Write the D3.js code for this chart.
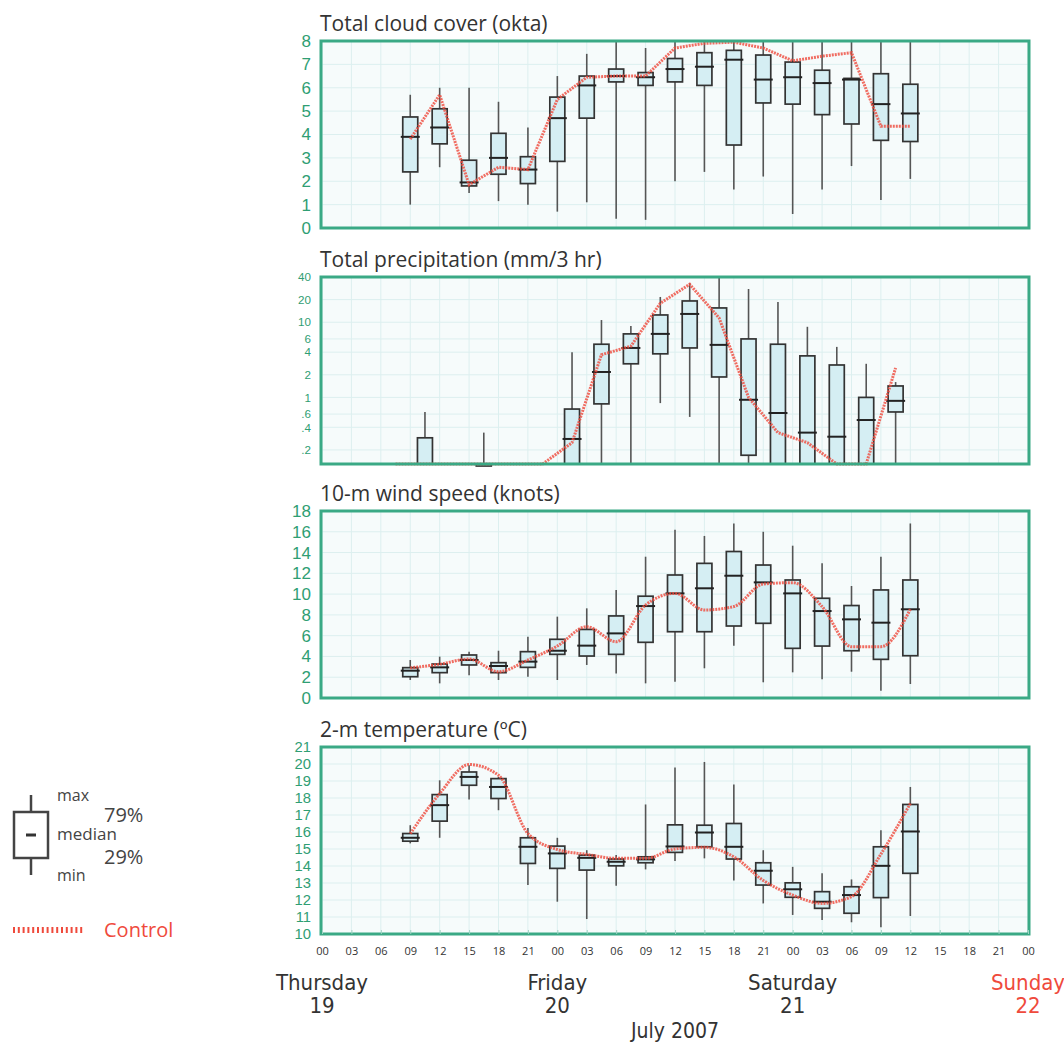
<!DOCTYPE html>
<html>
<head>
<meta charset="utf-8">
<script src="https://cdn.jsdelivr.net/npm/d3@7"></script>
<style>
  body { margin: 0; background: #fff; }
  text { font-family: "Open Sans", "Noto Sans", sans-serif; }
</style>
</head>
<body>
<div id="chart"></div>
<script>
// hours since Thursday 00 UTC
var hourTicks = ["00","03","06","09","12","15","18","21","00","03","06","09","12","15","18","21","00","03","06","09","12","15","18","21","00"]
var dayNames = ["Thursday","Friday","Saturday","Sunday"]
var dayNums = ["19","20","21","22"]

var boxHours = [9,12,15,18,21,24,27,30,33,36,39,42,45,48,51,54,57,60]
var precipHours = [10.5,13.5,16.5,19.5,22.5,25.5,28.5,31.5,34.5,37.5,40.5,43.5,46.5,49.5,52.5,55.5,58.5]
var precipCtrlHours = [7.5,10.5,13.5,16.5,19.5,22.5,25.5,28.5,31.5,34.5,37.5,40.5,43.5,46.5,49.5,52.5,55.5,58.5]

// [min, q1, median, q3, max]
var cloudBoxes = [
  [1.0,2.4,3.9,4.75,5.7],[2.6,3.6,4.3,5.1,6.0],[1.5,1.8,1.95,2.9,6.0],[1.15,2.3,3.0,4.05,5.4],
  [1.0,1.9,2.5,3.05,4.3],[0.7,2.85,4.7,5.6,6.5],[1.1,4.7,6.1,6.5,7.45],[0.4,6.25,6.5,6.8,8],
  [0.35,6.1,6.45,6.65,7.7],[2.0,6.25,6.8,7.25,8],[2.4,6.1,6.9,7.5,8],[1.65,3.55,7.2,7.6,8],
  [2.2,5.35,6.35,7.4,8],[0.6,5.3,6.45,7.1,8],[1.65,4.85,6.2,6.75,8],[2.65,4.45,6.35,6.4,8],
  [1.2,3.75,5.3,6.6,8],[2.1,3.7,4.9,6.15,8]
]
var cloudControl = [3.8,5.7,1.85,2.6,2.5,5.5,6.45,6.5,6.5,7.7,7.9,7.95,7.7,7.15,7.35,7.5,4.35,4.35]

var precipBoxes = [
  [0,0,0,0.29,0.64],[0,0,0,0,0],[0,0,0,0,0.34],[0,0,0,0,0],[0,0,0,0,0],
  [0,0,0.28,0.7,4.0],[0,0.82,2.18,5.1,10.7],[0,2.8,4.55,7.0,8.9],[0.84,3.8,7.0,12.5,21.7],
  [0.55,4.55,12.9,19.2,33],[0,1.87,5.0,15.5,40],[0,0.17,0.93,6.0,27.7],[0,0,0.62,5.1,18.6],
  [0,0,0.34,3.57,8.7],[0,0,0.3,2.7,4.7],[0,0,0.5,1.0,2.8],[0,0.64,0.9,1.42,1.6]
]
var precipControl = [0,0,0,0,0,0,0.25,3.7,4.8,17.9,32,11.4,1.0,0.34,0.25,0,0,2.47]

var windBoxes = [
  [1.73,2.05,2.63,2.92,3.66],[1.41,2.44,2.95,3.27,3.98],[2.2,3.18,3.66,4.14,4.46],[1.73,2.44,3.08,3.4,4.55],
  [2.05,2.95,3.5,4.46,5.9],[1.73,4.2,4.55,5.65,7.83],[3.18,4.04,5.04,6.6,8.63],[2.37,4.2,6.22,7.9,10.4],
  [1.41,5.36,8.85,9.8,13.6],[1.57,6.38,10.07,11.84,16.2],[2.86,6.38,10.56,12.96,15.6],[5.03,6.93,11.77,14.1,16.8],
  [1.51,7.19,11.13,12.8,16.0],[2.47,4.78,10.07,11.36,14.66],[1.8,5.0,8.37,9.6,12.96],[2.53,4.55,7.57,8.9,10.78],
  [0.7,3.72,7.25,10.4,13.6],[1.35,4.07,8.54,11.36,16.8]
]
var windControl = [2.9,3.25,3.75,2.53,3.66,5.0,6.86,5.42,8.95,10.07,8.47,8.8,10.97,11.1,8.8,4.94,4.94,8.54]

var tempBoxes = [
  [15.33,15.46,15.66,15.91,16.4],[15.66,16.64,17.58,18.2,19.04],[17.91,18.75,19.24,19.53,19.93],[17.28,17.97,18.65,19.14,19.24],
  [12.88,14.15,15.13,15.66,16.24],[11.9,13.86,14.74,15.17,15.66],[10.88,13.76,14.48,14.64,14.93],[12.84,14.01,14.25,14.41,14.64],
  [13.8,14.19,14.39,14.54,17.62],[14.29,14.8,15.15,16.42,19.8],[14.45,15.13,15.97,16.4,20.12],[13.15,14.41,15.13,16.5,18.79],
  [11.8,12.88,13.72,14.19,14.93],[11.12,12.16,12.63,13.01,13.95],[10.82,11.51,11.9,12.49,13.57],[10.69,11.22,12.29,12.78,13.21],
  [10.39,12.14,14.01,15.13,16.11],[11.06,13.57,16.03,17.62,18.65]
]
var tempControl = [15.9,18.26,19.97,19.34,15.91,14.97,14.68,14.45,14.45,15.0,15.1,14.54,13.15,12.29,11.8,12.2,14.7,17.68]

var cloudTicks = [0,1,2,3,4,5,6,7,8]
var precipTicks = [0.2,0.4,0.6,1,2,4,6,10,20,40]
var precipTickLabels = [".2",".4",".6","1","2","4","6","10","20","40"]
var windTicks = [0,2,4,6,8,10,12,14,16,18]
var tempTicks = [10,11,12,13,14,15,16,17,18,19,20,21]

var W = 1064, H = 1045
var svg = d3.select('#chart').append('svg')
  .attr('width', W).attr('height', H)

var x = d3.scaleLinear().domain([0, 72]).range([322, 1028])
var ph = 187
var green = '#2f9e73'
var red = '#ef4a3c'

var panels = [
  {title: 'Total cloud cover (okta)', top: 41, y: d3.scaleLinear().domain([0, 8]),
   ticks: cloudTicks, fmt: String, fs: 17, boxes: cloudBoxes, bx: boxHours,
   ctrl: cloudControl, cx: boxHours, curve: d3.curveLinear},
  {title: 'Total precipitation (mm/3 hr)', top: 277, y: d3.scaleLog().domain([0.13, 40]).clamp(true),
   ticks: precipTicks, fmt: function(d, i) { return precipTickLabels[i] }, fs: 11.6, boxes: precipBoxes, bx: precipHours,
   ctrl: precipControl, cx: precipCtrlHours, curve: d3.curveLinear},
  {title: '10-m wind speed (knots)', top: 511, y: d3.scaleLinear().domain([0, 18]),
   ticks: windTicks, fmt: String, fs: 17, boxes: windBoxes, bx: boxHours,
   ctrl: windControl, cx: boxHours, curve: d3.curveMonotoneX},
  {title: '2-m temperature (\u00BAC)', top: 747, y: d3.scaleLinear().domain([10, 21]),
   ticks: tempTicks, fmt: String, fs: 14.8, boxes: tempBoxes, bx: boxHours,
   ctrl: tempControl, cx: boxHours, curve: d3.curveMonotoneX}
]

panels.forEach(function(p, pi) {
  var y = p.y.range([p.top + ph, p.top])
  var g = svg.append('g')

  // background + grid
  g.append('rect')
    .attr('x', x(0)).attr('y', p.top)
    .attr('width', x(72) - x(0)).attr('height', ph)
    .attr('fill', '#f6fbfb')
  g.selectAll('.vg').data(d3.range(0, 73, 3)).enter().append('line')
    .attr('x1', function(d) { return x(d) }).attr('x2', function(d) { return x(d) })
    .attr('y1', p.top).attr('y2', p.top + ph)
    .attr('stroke', '#dcefef').attr('stroke-width', 1)
  g.selectAll('.hg').data(p.ticks).enter().append('line')
    .attr('x1', x(0)).attr('x2', x(72))
    .attr('y1', function(d) { return y(d) }).attr('y2', function(d) { return y(d) })
    .attr('stroke', '#dcefef').attr('stroke-width', 1)

  // boxes
  var bw = 15
  var data = p.boxes.map(function(b, i) { return {t: p.bx[i], v: b} })
    .filter(function(d) { return d.v[4] > 0 })
  var bg = g.selectAll('.box').data(data).enter().append('g')
  bg.append('line')
    .attr('x1', function(d) { return x(d.t) }).attr('x2', function(d) { return x(d.t) })
    .attr('y1', function(d) { return y(Math.max(d.v[0], 0.001)) })
    .attr('y2', function(d) { return y(d.v[4]) })
    .attr('stroke', '#555').attr('stroke-width', 1.6)
  bg.append('rect')
    .attr('x', function(d) { return x(d.t) - bw / 2 })
    .attr('y', function(d) { return y(d.v[3]) })
    .attr('width', bw)
    .attr('height', function(d) { return Math.max(2, y(Math.max(d.v[1], 0.001)) - y(d.v[3])) })
    .attr('fill', '#d5eef3').attr('stroke', '#333').attr('stroke-width', 1.7)
  bg.append('line')
    .attr('x1', function(d) { return x(d.t) - bw / 2 - 2 }).attr('x2', function(d) { return x(d.t) + bw / 2 + 2 })
    .attr('y1', function(d) { return y(Math.max(d.v[2], 0.001)) })
    .attr('y2', function(d) { return y(Math.max(d.v[2], 0.001)) })
    .attr('stroke', '#222').attr('stroke-width', 2)

  // control line
  var line = d3.line()
    .x(function(d, i) { return x(p.cx[i]) })
    .y(function(d) { return y(Math.max(d, 0.001)) })
    .curve(p.curve)
  g.append('path').datum(p.ctrl)
    .attr('d', line)
    .attr('fill', 'none')
    .attr('stroke', red).attr('stroke-opacity', 0.8)
    .attr('stroke-width', 3).attr('stroke-dasharray', '2,1')

  // frame
  g.append('rect')
    .attr('x', x(0) - 1).attr('y', p.top)
    .attr('width', x(72) - x(0) + 2).attr('height', ph)
    .attr('fill', 'none').attr('stroke', '#3aa985').attr('stroke-width', 3)

  // y axis
  var ya = g.append('g').attr('transform', 'translate(' + (x(0) - 11) + ',0)')
    .call(d3.axisLeft(y).tickValues(p.ticks).tickFormat(p.fmt).tickSize(0).tickPadding(0))
  ya.select('.domain').remove()
  ya.selectAll('text').attr('fill', green)
    .style('font-family', '"Liberation Sans", Arial, sans-serif')
    .style('font-size', p.fs + 'px')

  g.append('text')
    .attr('x', x(0) - 2).attr('y', p.top - 10)
    .attr('fill', '#333').style('font-size', '21px')
    .text(p.title)
})

// bottom time axis
var xa = svg.append('g').attr('transform', 'translate(0,' + (747 + ph) + ')')
  .call(d3.axisBottom(x).tickValues(d3.range(0, 73, 3))
    .tickFormat(function(d, i) { return hourTicks[i] })
    .tickSizeInner(-4).tickSizeOuter(0).tickPadding(13))
xa.select('.domain').remove()
xa.selectAll('line').attr('stroke', '#9fd3c3')
xa.selectAll('text').attr('fill', '#333').style('font-size', '11px')

var days = svg.selectAll('.day').data(dayNames).enter().append('g')
  .attr('transform', function(d, i) { return 'translate(' + x(i * 24) + ',0)' })
days.append('text')
  .attr('y', 990).attr('text-anchor', 'middle')
  .style('font-family', '"Liberation Sans Narrow", "DejaVu Sans Condensed", sans-serif')
  .style('font-size', '22px')
  .attr('fill', function(d, i) { return i === 3 ? red : '#333' })
  .text(function(d) { return d })
days.append('text')
  .attr('y', 1013).attr('text-anchor', 'middle')
  .style('font-family', '"Liberation Sans Narrow", "DejaVu Sans Condensed", sans-serif')
  .style('font-size', '22px')
  .attr('fill', function(d, i) { return i === 3 ? red : '#333' })
  .text(function(d, i) { return dayNums[i] })

svg.append('text')
  .attr('x', x(36)).attr('y', 1038).attr('text-anchor', 'middle')
  .style('font-family', '"Liberation Sans Narrow", "DejaVu Sans Condensed", sans-serif')
  .style('font-size', '21px').attr('fill', '#333')
  .text('July 2007')

// legend
var lg = svg.append('g')
lg.append('line').attr('x1', 31).attr('x2', 31).attr('y1', 795).attr('y2', 875)
  .attr('stroke', '#444').attr('stroke-width', 2.5)
lg.append('rect').attr('x', 14).attr('y', 812).attr('width', 34).attr('height', 46)
  .attr('fill', '#fff').attr('stroke', '#444').attr('stroke-width', 2.5)
lg.append('line').attr('x1', 26).attr('x2', 36).attr('y1', 835).attr('y2', 835)
  .attr('stroke', '#333').attr('stroke-width', 3)
lg.append('text').attr('x', 57).attr('y', 801).style('font-size', '16px').attr('fill', '#444').text('max')
lg.append('text').attr('x', 57).attr('y', 840).style('font-size', '17px').attr('fill', '#444').text('median')
lg.append('text').attr('x', 57).attr('y', 881).style('font-size', '16px').attr('fill', '#444').text('min')
lg.append('text').attr('x', 104).attr('y', 822).style('font-size', '20px').attr('fill', '#444').text('79%')
lg.append('text').attr('x', 104).attr('y', 864).style('font-size', '20px').attr('fill', '#444').text('29%')
lg.append('line').attr('x1', 13).attr('x2', 84).attr('y1', 930).attr('y2', 930)
  .attr('stroke', red).attr('stroke-width', 6).attr('stroke-dasharray', '2,2.8')
lg.append('text').attr('x', 104).attr('y', 937).style('font-size', '20px').attr('fill', red).text('Control')
</script>
</body>
</html>
